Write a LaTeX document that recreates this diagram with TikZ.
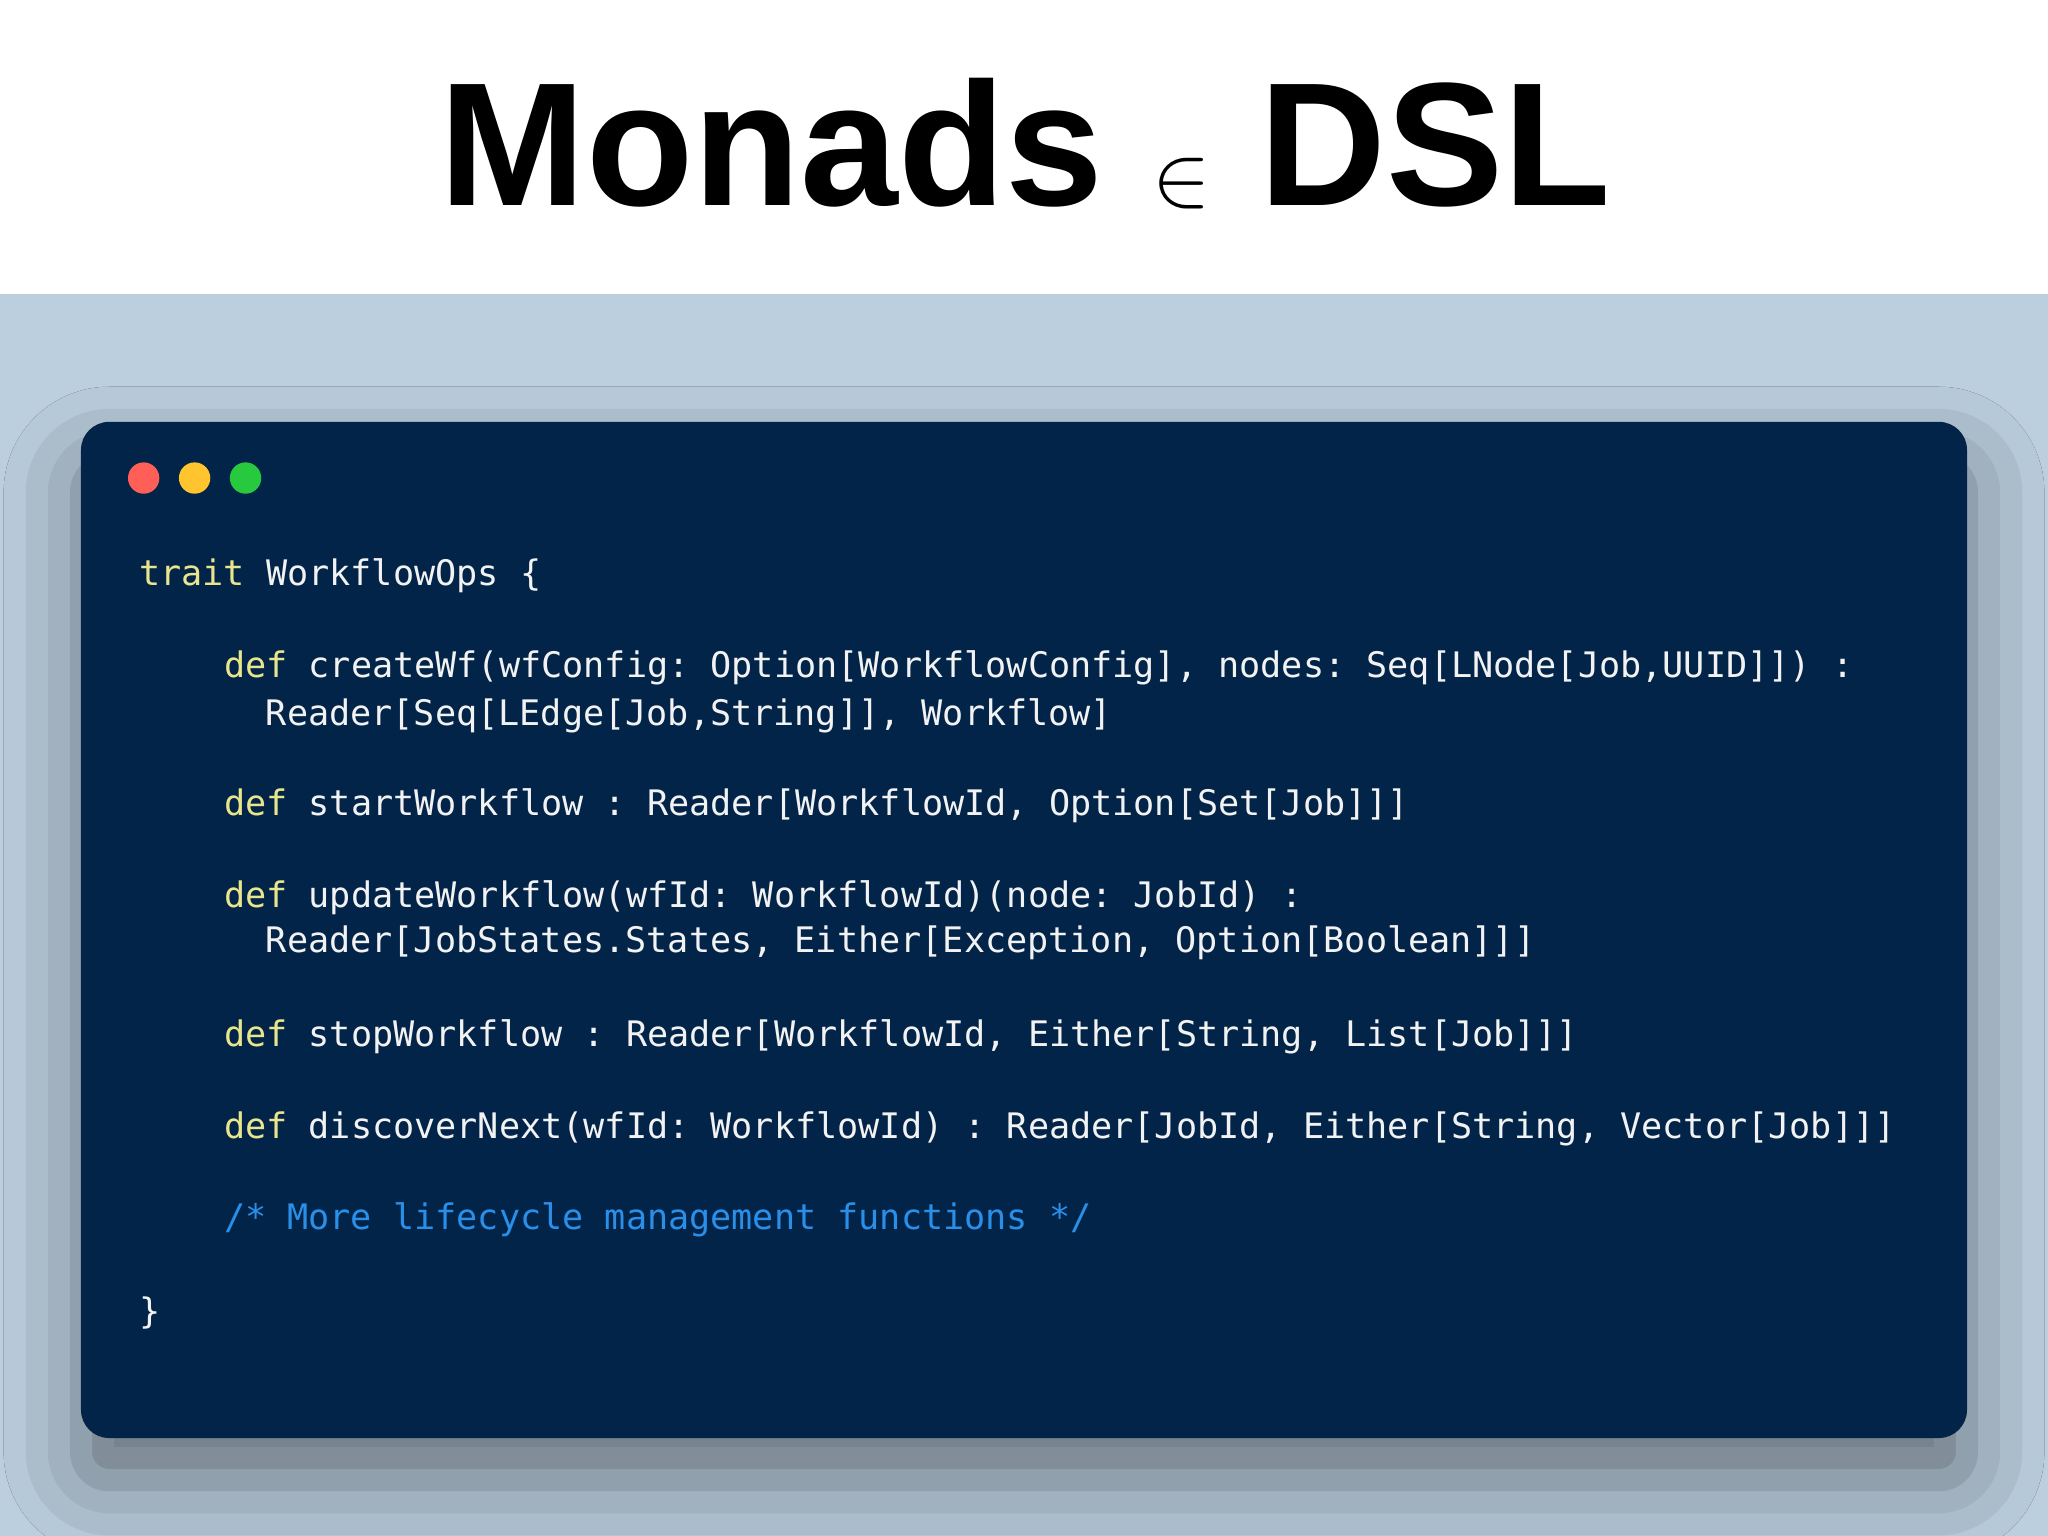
\documentclass[tikz,border=0pt]{standalone}
\usepackage{fontspec}
\setmainfont{Liberation Sans}
\setmonofont{DejaVu Sans Mono}
\usetikzlibrary{shadows.blur}
\definecolor{bgblue}{HTML}{BCCFDF}
\definecolor{codebg}{HTML}{022449}
\definecolor{kw}{HTML}{E8E58C}
\definecolor{txt}{HTML}{F2F2F2}
\definecolor{cm}{HTML}{2A8FE8}
\definecolor{dred}{HTML}{FF5F56}
\definecolor{dyel}{HTML}{FFC42E}
\definecolor{dgrn}{HTML}{27C93F}
\begin{document}
\begin{tikzpicture}[x=0.013061cm,y=-0.013061cm,
  code/.style={anchor=west,inner sep=0pt,font=\ttfamily\fontsize{10}{12}\selectfont,text=txt}]
\useasboundingbox (0,0) rectangle (1568,1176);
\fill[white] (0,0) rectangle (1568,225);
\fill[bgblue] (0,225) rectangle (1568,1176);
\node[font=\bfseries\fontsize{50}{60}\selectfont] (title) at (785,110) {Monads $\in$ DSL};
\fill[codebg,rounded corners=8,blur shadow={shadow xshift=0pt,shadow yshift=-12pt,shadow blur radius=22pt,shadow opacity=45}] (62,323) rectangle (1506,1101);
\fill[dred] (110,366) circle (12);
\fill[dyel] (149,366) circle (12);
\fill[dgrn] (188,366) circle (12);
\node[code] (l1) at (106,441) {\textcolor{kw}{trait} WorkflowOps \{};
\node[code] (l2) at (171,511) {\textcolor{kw}{def} createWf(wfConfig: Option[WorkflowConfig], nodes: Seq[LNode[Job,UUID]]) :};
\node[code] (l3) at (203,548) {Reader[Seq[LEdge[Job,String]], Workflow]};
\node[code] (l4) at (171,617) {\textcolor{kw}{def} startWorkflow : Reader[WorkflowId, Option[Set[Job]]]};
\node[code] (l5) at (171,687) {\textcolor{kw}{def} updateWorkflow(wfId: WorkflowId)(node: JobId) :};
\node[code] (l6) at (203,722) {Reader[JobStates.States, Either[Exception, Option[Boolean]]]};
\node[code] (l7) at (171,794) {\textcolor{kw}{def} stopWorkflow : Reader[WorkflowId, Either[String, List[Job]]]};
\node[code] (l8) at (171,864) {\textcolor{kw}{def} discoverNext(wfId: WorkflowId) : Reader[JobId, Either[String, Vector[Job]]]};
\node[code,text=cm] (l9) at (171,934) {/* More lifecycle management functions */};
\node[code] (l10) at (106,1005) {\}};
\end{tikzpicture}
\end{document}
